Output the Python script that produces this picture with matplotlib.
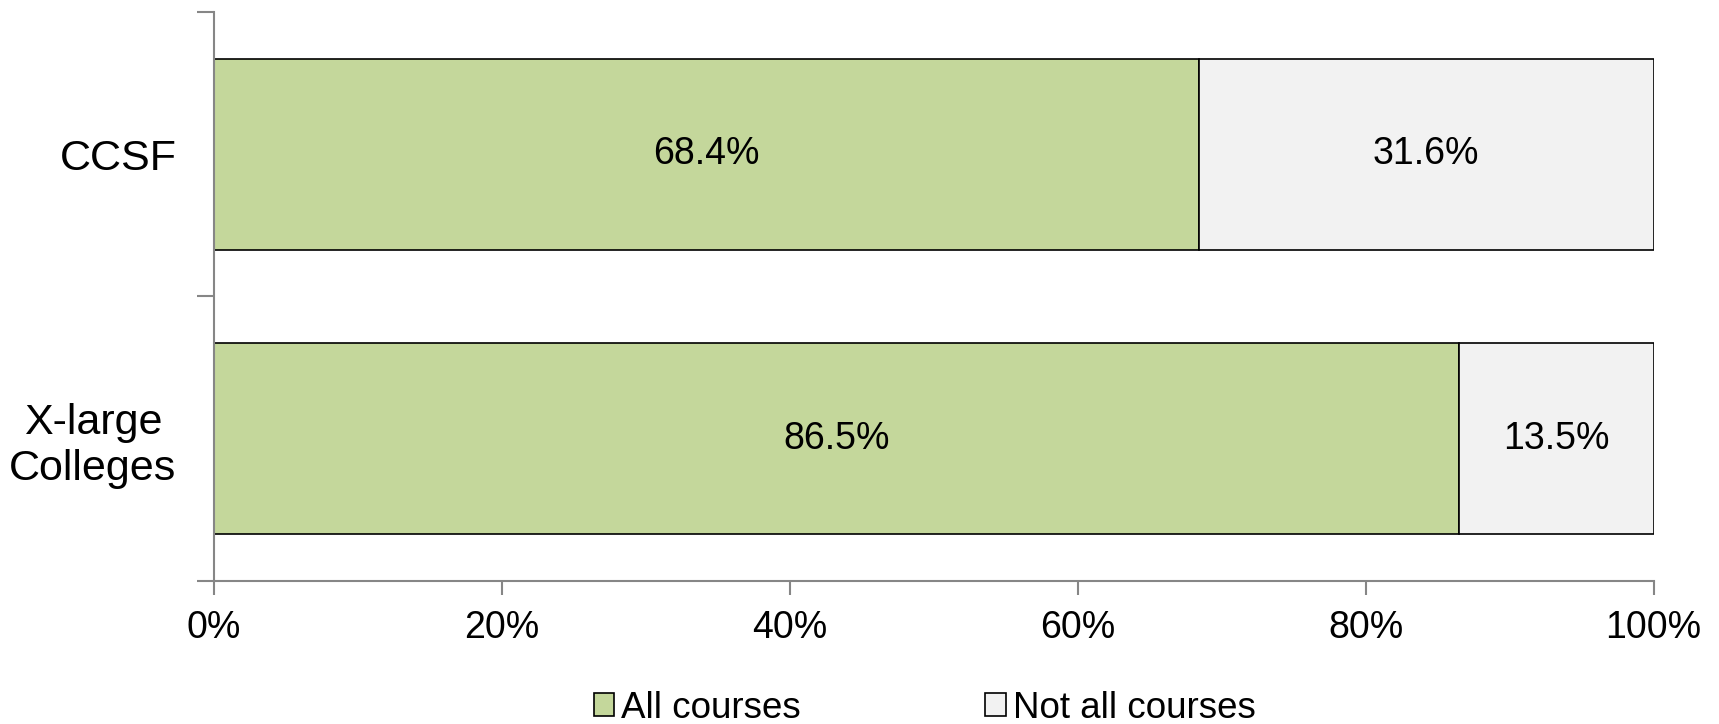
import matplotlib
matplotlib.use('Agg')
import matplotlib.pyplot as plt
import numpy as np
from matplotlib.ticker import FixedLocator, PercentFormatter

plt.rcParams['font.family'] = ['Liberation Sans', 'DejaVu Sans']

# ── Data ──────────────────────────────────────────────────────
categories = ["CCSF", "X-large\nColleges"]
all_courses = [68.4, 86.5]
not_all_courses = [31.6, 13.5]
series_names = ["All courses", "Not all courses"]
colors = ['#C4D79B', '#F2F2F2']

fig = plt.figure(figsize=(17.19, 7.24), dpi=100)
ax = fig.add_axes([0.1245, 0.1975, 0.8375, 0.786])

y = np.arange(len(categories)) + 0.5
h = 0.67
b1 = ax.barh(y, all_courses, height=h, color=colors[0], edgecolor='black',
             linewidth=1.2, label=series_names[0])
b2 = ax.barh(y, not_all_courses, left=all_courses, height=h, color=colors[1],
             edgecolor='black', linewidth=1.2, label=series_names[1])

for bars, vals in [(b1, all_courses), (b2, not_all_courses)]:
    for rect, v in zip(bars, vals):
        ax.text(rect.get_x() + rect.get_width() / 2, rect.get_y() + rect.get_height() / 2,
                f"{v:.1f}%", ha='center', va='center', fontsize=27, color='black')

ax.set_xlim(0, 100)
ax.set_ylim(len(categories), 0)
ax.xaxis.set_major_locator(FixedLocator([0, 20, 40, 60, 80, 100]))
ax.xaxis.set_major_formatter(PercentFormatter(decimals=0))

ax.set_yticks(y)
ax.set_yticklabels(categories, fontsize=31, multialignment='center')
ax.yaxis.set_minor_locator(FixedLocator(np.arange(len(categories) + 1)))
ax.tick_params(axis='y', which='major', length=0, pad=27)
ax.tick_params(axis='y', which='minor', length=12, width=1.5, color='#868686')
ax.tick_params(axis='x', which='major', length=10, width=1.5, color='#868686',
               labelsize=27, pad=11)

for side in ['top', 'right']:
    ax.spines[side].set_visible(False)
for side in ['left', 'bottom']:
    ax.spines[side].set_color('#868686')
    ax.spines[side].set_linewidth(1.5)

leg = fig.legend(handles=[b1, b2], labels=series_names, loc='center',
                 bbox_to_anchor=(0.538, 0.022), ncol=2, frameon=False,
                 fontsize=26.5, handlelength=0.55, handleheight=0.55,
                 handletextpad=0.2, columnspacing=5.0)

fig.savefig('out.png', dpi=100)
